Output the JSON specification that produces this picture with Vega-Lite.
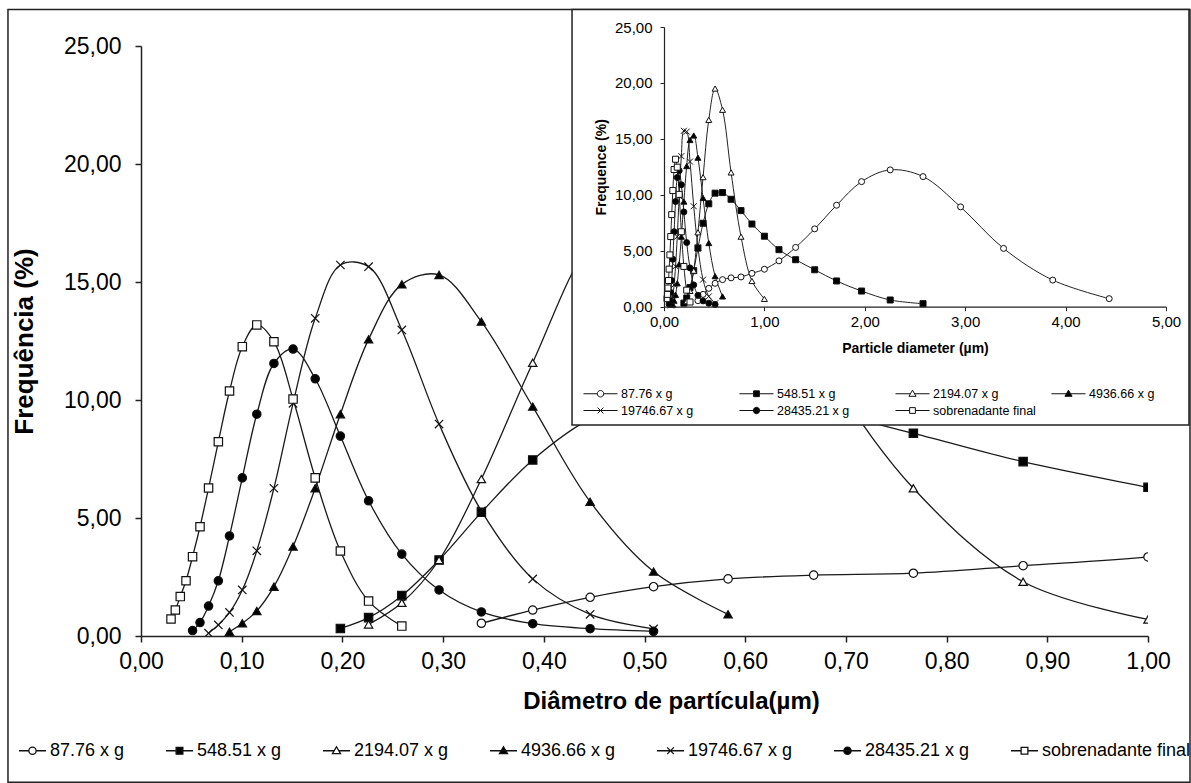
{
"$schema": "https://vega.github.io/schema/vega-lite/v6.json",
"width": 1007, "height": 590,
"autosize": {"type": "none"},
"padding": {"left": 141, "top": 46, "right": 43, "bottom": 147},
"background": "white",
"config": {"view": {"stroke": null}, "font": "Liberation Sans", "axis": {"grid": false, "labelColor": "#000", "titleColor": "#000", "domainColor": "#222", "tickColor": "#222", "labelFont": "Liberation Sans", "titleFont": "Liberation Sans"}},
"datasets": {
"sl": [{"s":"87.76 x g"},{"s":"548.51 x g"},{"s":"2194.07 x g"},{"s":"4936.66 x g"},{"s":"19746.67 x g"},{"s":"28435.21 x g"},{"s":"sobrenadante final"}],
"d": [
{"s":"87.76 x g","d":0.338,"f":0.54},{"s":"87.76 x g","d":0.389,"f":1.1},{"s":"87.76 x g","d":0.446,"f":1.64},{"s":"87.76 x g","d":0.509,"f":2.09},{"s":"87.76 x g","d":0.583,"f":2.42},{"s":"87.76 x g","d":0.668,"f":2.58},{"s":"87.76 x g","d":0.767,"f":2.66},{"s":"87.76 x g","d":0.876,"f":2.98},{"s":"87.76 x g","d":1.0,"f":3.35},{"s":"87.76 x g","d":1.145,"f":4.1},{"s":"87.76 x g","d":1.311,"f":5.3},{"s":"87.76 x g","d":1.501,"f":6.96},{"s":"87.76 x g","d":1.719,"f":9.07},{"s":"87.76 x g","d":1.968,"f":11.18},{"s":"87.76 x g","d":2.253,"f":12.23},{"s":"87.76 x g","d":2.58,"f":11.63},{"s":"87.76 x g","d":2.954,"f":8.92},{"s":"87.76 x g","d":3.382,"f":5.21},{"s":"87.76 x g","d":3.872,"f":2.38},{"s":"87.76 x g","d":4.434,"f":0.72},
{"s":"548.51 x g","d":0.198,"f":0.32},{"s":"548.51 x g","d":0.226,"f":0.78},{"s":"548.51 x g","d":0.259,"f":1.71},{"s":"548.51 x g","d":0.296,"f":3.22},{"s":"548.51 x g","d":0.338,"f":5.24},{"s":"548.51 x g","d":0.389,"f":7.46},{"s":"548.51 x g","d":0.446,"f":9.2},{"s":"548.51 x g","d":0.509,"f":10.15},{"s":"548.51 x g","d":0.583,"f":10.2},{"s":"548.51 x g","d":0.668,"f":9.6},{"s":"548.51 x g","d":0.767,"f":8.59},{"s":"548.51 x g","d":0.876,"f":7.39},{"s":"548.51 x g","d":1.0,"f":6.3},{"s":"548.51 x g","d":1.145,"f":5.1},{"s":"548.51 x g","d":1.311,"f":4.2},{"s":"548.51 x g","d":1.501,"f":3.3},{"s":"548.51 x g","d":1.719,"f":2.3},{"s":"548.51 x g","d":1.968,"f":1.4},{"s":"548.51 x g","d":2.253,"f":0.6},{"s":"548.51 x g","d":2.58,"f":0.27},
{"s":"2194.07 x g","d":0.226,"f":0.49},{"s":"2194.07 x g","d":0.259,"f":1.41},{"s":"2194.07 x g","d":0.296,"f":3.22},{"s":"2194.07 x g","d":0.338,"f":6.65},{"s":"2194.07 x g","d":0.389,"f":11.58},{"s":"2194.07 x g","d":0.446,"f":16.7},{"s":"2194.07 x g","d":0.509,"f":19.5},{"s":"2194.07 x g","d":0.583,"f":17.6},{"s":"2194.07 x g","d":0.668,"f":12.0},{"s":"2194.07 x g","d":0.767,"f":6.26},{"s":"2194.07 x g","d":0.876,"f":2.3},{"s":"2194.07 x g","d":1.0,"f":0.7},
{"s":"4936.66 x g","d":0.0879,"f":0.18},{"s":"4936.66 x g","d":0.1006,"f":0.54},{"s":"4936.66 x g","d":0.115,"f":1.06},{"s":"4936.66 x g","d":0.132,"f":2.09},{"s":"4936.66 x g","d":0.151,"f":3.79},{"s":"4936.66 x g","d":0.173,"f":6.26},{"s":"4936.66 x g","d":0.198,"f":9.4},{"s":"4936.66 x g","d":0.226,"f":12.57},{"s":"4936.66 x g","d":0.259,"f":14.9},{"s":"4936.66 x g","d":0.296,"f":15.3},{"s":"4936.66 x g","d":0.338,"f":13.32},{"s":"4936.66 x g","d":0.389,"f":9.72},{"s":"4936.66 x g","d":0.446,"f":5.69},{"s":"4936.66 x g","d":0.509,"f":2.73},{"s":"4936.66 x g","d":0.583,"f":0.92},
{"s":"19746.67 x g","d":0.0671,"f":0.12},{"s":"19746.67 x g","d":0.0768,"f":0.47},{"s":"19746.67 x g","d":0.0879,"f":1.0},{"s":"19746.67 x g","d":0.1006,"f":1.95},{"s":"19746.67 x g","d":0.115,"f":3.61},{"s":"19746.67 x g","d":0.132,"f":6.26},{"s":"19746.67 x g","d":0.151,"f":9.86},{"s":"19746.67 x g","d":0.173,"f":13.46},{"s":"19746.67 x g","d":0.198,"f":15.72},{"s":"19746.67 x g","d":0.226,"f":15.65},{"s":"19746.67 x g","d":0.259,"f":12.97},{"s":"19746.67 x g","d":0.296,"f":8.98},{"s":"19746.67 x g","d":0.338,"f":5.3},{"s":"19746.67 x g","d":0.389,"f":2.42},{"s":"19746.67 x g","d":0.446,"f":0.92},{"s":"19746.67 x g","d":0.509,"f":0.3},
{"s":"28435.21 x g","d":0.0512,"f":0.23},{"s":"28435.21 x g","d":0.0586,"f":0.57},{"s":"28435.21 x g","d":0.0671,"f":1.27},{"s":"28435.21 x g","d":0.0768,"f":2.34},{"s":"28435.21 x g","d":0.0879,"f":4.24},{"s":"28435.21 x g","d":0.1006,"f":6.7},{"s":"28435.21 x g","d":0.115,"f":9.4},{"s":"28435.21 x g","d":0.132,"f":11.55},{"s":"28435.21 x g","d":0.151,"f":12.16},{"s":"28435.21 x g","d":0.173,"f":10.9},{"s":"28435.21 x g","d":0.198,"f":8.47},{"s":"28435.21 x g","d":0.226,"f":5.73},{"s":"28435.21 x g","d":0.259,"f":3.47},{"s":"28435.21 x g","d":0.296,"f":1.95},{"s":"28435.21 x g","d":0.338,"f":1.02},{"s":"28435.21 x g","d":0.389,"f":0.52},{"s":"28435.21 x g","d":0.446,"f":0.31},{"s":"28435.21 x g","d":0.509,"f":0.2},
{"s":"sobrenadante final","d":0.0298,"f":0.72},{"s":"sobrenadante final","d":0.0341,"f":1.1},{"s":"sobrenadante final","d":0.039,"f":1.67},{"s":"sobrenadante final","d":0.0447,"f":2.34},{"s":"sobrenadante final","d":0.0512,"f":3.36},{"s":"sobrenadante final","d":0.0586,"f":4.63},{"s":"sobrenadante final","d":0.0671,"f":6.27},{"s":"sobrenadante final","d":0.0768,"f":8.23},{"s":"sobrenadante final","d":0.0879,"f":10.38},{"s":"sobrenadante final","d":0.1006,"f":12.26},{"s":"sobrenadante final","d":0.115,"f":13.18},{"s":"sobrenadante final","d":0.132,"f":12.47},{"s":"sobrenadante final","d":0.151,"f":10.04},{"s":"sobrenadante final","d":0.173,"f":6.7},{"s":"sobrenadante final","d":0.198,"f":3.6},{"s":"sobrenadante final","d":0.226,"f":1.48},{"s":"sobrenadante final","d":0.259,"f":0.42}
]},
"layer": [
{"data": {"name": "d"},
 "mark": {"type": "line", "interpolate": "catmull-rom", "clip": true, "color": "#1a1a1a", "strokeWidth": 1.3},
 "encoding": {
  "x": {"field": "d", "type": "quantitative", "scale": {"domain": [0, 1], "nice": false, "zero": false},
        "axis": {"orient": "bottom", "values": [0,0.1,0.2,0.3,0.4,0.5,0.6,0.7,0.8,0.9,1], "labelExpr": "replace(format(datum.value, '.2f'), '.', ',')", "labelFlush": false, "labelFontSize": 23, "labelPadding": 8, "tickSize": 6, "tickWidth": 1.5, "domainWidth": 1.5, "title": "Diâmetro de partícula(µm)", "titleFontSize": 24, "titleFontWeight": "bold", "titlePadding": 16, "titleX": 530}},
  "y": {"field": "f", "type": "quantitative", "scale": {"domain": [0, 25], "nice": false, "zero": false},
        "axis": {"orient": "left", "values": [0,5,10,15,20,25], "labelExpr": "replace(format(datum.value, '.2f'), '.', ',')", "labelFontSize": 23, "labelPadding": 14, "tickSize": 6, "tickWidth": 1.5, "domainWidth": 1.5, "title": "Frequência (%)", "titleFontSize": 26, "titleFontWeight": "bold", "titlePadding": 26}},
  "detail": {"field": "s", "type": "nominal"}}},
{"data": {"name": "d"},
 "mark": {"type": "point", "filled": true, "clip": true, "size": 70, "stroke": "#111", "strokeWidth": 1.2, "opacity": 1},
 "encoding": {
  "x": {"field": "d", "type": "quantitative", "scale": {"domain": [0, 1], "nice": false, "zero": false}, "axis": null},
  "y": {"field": "f", "type": "quantitative", "scale": {"domain": [0, 25], "nice": false, "zero": false}, "axis": null},
  "shape": {"field": "s", "type": "nominal", "scale": {"domain": ["87.76 x g","548.51 x g","2194.07 x g","4936.66 x g","19746.67 x g","28435.21 x g","sobrenadante final"], "range": ["circle","square","triangle-up","triangle-up","M-1,-1L1,1M-1,1L1,-1","circle","square"]}, "legend": null},
  "fill": {"field": "s", "type": "nominal", "scale": {"domain": ["87.76 x g","548.51 x g","2194.07 x g","4936.66 x g","19746.67 x g","28435.21 x g","sobrenadante final"], "range": ["white","black","white","black","black","black","white"]}, "legend": null}}},
{"data": {"name": "sl"},
 "mark": {"type": "point", "filled": true, "clip": true, "size": 729, "strokeWidth": 1.3, "opacity": 1},
 "encoding": {
  "x": {"datum": -10, "type": "quantitative", "scale": {"domain": [0, 1], "nice": false, "zero": false}, "axis": null},
  "y": {"datum": -10, "type": "quantitative", "scale": {"domain": [0, 25], "nice": false, "zero": false}, "axis": null},
  "stroke": {"field": "s", "type": "nominal", "scale": {"domain": ["87.76 x g","548.51 x g","2194.07 x g","4936.66 x g","19746.67 x g","28435.21 x g","sobrenadante final"], "range": ["#111","#111","#111","#111","#111","#111","#111"]},
   "legend": {"orient": "none", "legendX": -123, "legendY": 690, "direction": "horizontal", "columns": 7, "title": null, "symbolSize": 729, "symbolStrokeWidth": 1.3, "symbolOpacity": 1, "labelFontSize": 18, "labelFont": "Liberation Sans", "labelColor": "#000", "labelOffset": 3, "columnPadding": 38, "padding": 0}},
  "shape": {"field": "s", "type": "nominal", "scale": {"domain": ["87.76 x g","548.51 x g","2194.07 x g","4936.66 x g","19746.67 x g","28435.21 x g","sobrenadante final"], "range": [
    "M-1,0L-0.27,0M0.27,0L1,0M-0.27,0A0.27,0.27,0,1,0,0.27,0A0.27,0.27,0,1,0,-0.27,0Z",
    "M-1,0L-0.25,0M0.25,0L1,0M-0.25,-0.25L0.25,-0.25L0.25,0.25L-0.25,0.25Z",
    "M-1,0L-0.17,0M0.17,0L1,0M0,-0.3L0.3,0.22L-0.3,0.22Z",
    "M-1,0L1,0M0,-0.3L0.3,0.22L-0.3,0.22Z",
    "M-1,0L1,0M-0.25,-0.25L0.25,0.25M-0.25,0.25L0.25,-0.25",
    "M-1,0L1,0M-0.27,0A0.27,0.27,0,1,0,0.27,0A0.27,0.27,0,1,0,-0.27,0Z",
    "M-1,0L-0.25,0M0.25,0L1,0M-0.25,-0.25L0.25,-0.25L0.25,0.25L-0.25,0.25Z"]},
   "legend": {"orient": "none", "legendX": -123, "legendY": 690, "direction": "horizontal", "columns": 7, "title": null, "symbolSize": 729, "symbolStrokeWidth": 1.3, "symbolOpacity": 1, "labelFontSize": 18, "labelFont": "Liberation Sans", "labelColor": "#000", "labelOffset": 3, "columnPadding": 38, "padding": 0}},
  "fill": {"field": "s", "type": "nominal", "scale": {"domain": ["87.76 x g","548.51 x g","2194.07 x g","4936.66 x g","19746.67 x g","28435.21 x g","sobrenadante final"], "range": ["white","black","white","black","black","black","white"]},
   "legend": {"orient": "none", "legendX": -123, "legendY": 690, "direction": "horizontal", "columns": 7, "title": null, "symbolSize": 729, "symbolStrokeWidth": 1.3, "symbolOpacity": 1, "labelFontSize": 18, "labelFont": "Liberation Sans", "labelColor": "#000", "labelOffset": 3, "columnPadding": 38, "padding": 0}}}},
{"data": {"values": [{}]},
 "mark": {"type": "rect", "fillOpacity": 0, "stroke": "#222", "strokeWidth": 1.5},
 "encoding": {
  "x": {"datum": -0.1321, "type": "quantitative", "scale": {"domain": [0, 1], "nice": false, "zero": false}, "axis": null},
  "x2": {"datum": 1.0417},
  "y": {"datum": 26.547, "type": "quantitative", "scale": {"domain": [0, 25], "nice": false, "zero": false}, "axis": null},
  "y2": {"datum": -6.2}}},
{"data": {"values": [{}]},
 "mark": {"type": "rect", "fill": "white", "stroke": "#222", "strokeWidth": 1.5},
 "encoding": {
  "x": {"datum": -0.916, "type": "quantitative", "scale": {"domain": [0, 5], "range": [523, 1025], "nice": false, "zero": false}, "axis": null},
  "x2": {"datum": 5.229},
  "y": {"datum": 26.56, "type": "quantitative", "scale": {"domain": [0, 25], "range": [260.7, -19], "nice": false, "zero": false}, "axis": null},
  "y2": {"datum": -10.57}}},
{"data": {"name": "d"},
 "mark": {"type": "line", "interpolate": "catmull-rom", "color": "#222", "strokeWidth": 1},
 "encoding": {
  "x": {"field": "d", "type": "quantitative", "scale": {"domain": [0, 5], "range": [523, 1025], "nice": false, "zero": false},
        "axis": {"orient": "bottom", "offset": -329.3, "zindex": 2, "values": [0,1,2,3,4,5], "labelExpr": "replace(format(datum.value, '.2f'), '.', ',')", "labelFlush": false, "labelFontSize": 15, "labelPadding": 4, "tickSize": 4, "tickWidth": 1, "domainWidth": 1.2, "title": "Particle diameter (µm)", "titleFontSize": 14, "titleFontWeight": "bold", "titlePadding": 12}},
  "y": {"field": "f", "type": "quantitative", "scale": {"domain": [0, 25], "range": [260.7, -19], "nice": false, "zero": false},
        "axis": {"orient": "left", "offset": -523, "zindex": 2, "values": [0,5,10,15,20,25], "labelExpr": "replace(format(datum.value, '.2f'), '.', ',')", "labelFontSize": 15, "labelPadding": 8, "tickSize": 4, "tickWidth": 1, "domainWidth": 1.2, "title": "Frequence (%)", "titleFontSize": 14, "titleFontWeight": "bold", "titlePadding": 6}},
  "detail": {"field": "s", "type": "nominal"}}},
{"data": {"name": "d"},
 "mark": {"type": "point", "filled": true, "size": 36, "stroke": "#111", "strokeWidth": 1, "opacity": 1},
 "encoding": {
  "x": {"field": "d", "type": "quantitative", "scale": {"domain": [0, 5], "range": [523, 1025], "nice": false, "zero": false}, "axis": null},
  "y": {"field": "f", "type": "quantitative", "scale": {"domain": [0, 25], "range": [260.7, -19], "nice": false, "zero": false}, "axis": null},
  "shape": {"field": "s", "type": "nominal", "scale": {"domain": ["87.76 x g","548.51 x g","2194.07 x g","4936.66 x g","19746.67 x g","28435.21 x g","sobrenadante final"], "range": ["circle","square","triangle-up","triangle-up","M-1,-1L1,1M-1,1L1,-1","circle","square"]}, "legend": null},
  "fill": {"field": "s", "type": "nominal", "scale": {"domain": ["87.76 x g","548.51 x g","2194.07 x g","4936.66 x g","19746.67 x g","28435.21 x g","sobrenadante final"], "range": ["white","black","white","black","black","black","white"]}, "legend": null}}},
{"data": {"name": "sl"},
 "mark": {"type": "point", "filled": true, "clip": true, "size": 289, "strokeWidth": 1, "opacity": 1},
 "encoding": {
  "x": {"datum": -10, "type": "quantitative", "scale": {"domain": [0, 5], "range": [523, 1025], "nice": false, "zero": false}, "axis": null},
  "y": {"datum": -10, "type": "quantitative", "scale": {"domain": [0, 25], "range": [260.7, -19], "nice": false, "zero": false}, "axis": null},
  "stroke": {"field": "s", "type": "nominal", "scale": {"domain": ["87.76 x g","548.51 x g","2194.07 x g","4936.66 x g","19746.67 x g","28435.21 x g","sobrenadante final"], "range": ["#111","#111","#111","#111","#111","#111","#111"]},
   "legend": {"orient": "none", "legendX": 450.5, "legendY": 338.5, "direction": "horizontal", "columns": 4, "gridAlign": "all", "title": null, "symbolSize": 289, "symbolStrokeWidth": 1, "symbolOpacity": 1, "labelFontSize": 12.5, "labelFont": "Liberation Sans", "labelColor": "#000", "labelOffset": 11.5, "columnPadding": 13, "rowPadding": 1, "padding": 0}},
  "shape": {"field": "s", "type": "nominal", "scale": {"domain": ["87.76 x g","548.51 x g","2194.07 x g","4936.66 x g","19746.67 x g","28435.21 x g","sobrenadante final"], "range": [
    "M-2,0L-0.38,0M0.38,0L2,0M-0.38,0A0.38,0.38,0,1,0,0.38,0A0.38,0.38,0,1,0,-0.38,0Z",
    "M-2,0L-0.34,0M0.34,0L2,0M-0.34,-0.34L0.34,-0.34L0.34,0.34L-0.34,0.34Z",
    "M-2,0L-0.245,0M0.245,0L2,0M0,-0.42L0.42,0.3L-0.42,0.3Z",
    "M-2,0L2,0M0,-0.42L0.42,0.3L-0.42,0.3Z",
    "M-2,0L2,0M-0.34,-0.34L0.34,0.34M-0.34,0.34L0.34,-0.34",
    "M-2,0L2,0M-0.38,0A0.38,0.38,0,1,0,0.38,0A0.38,0.38,0,1,0,-0.38,0Z",
    "M-2,0L-0.34,0M0.34,0L2,0M-0.34,-0.34L0.34,-0.34L0.34,0.34L-0.34,0.34Z"]},
   "legend": {"orient": "none", "legendX": 450.5, "legendY": 338.5, "direction": "horizontal", "columns": 4, "gridAlign": "all", "title": null, "symbolSize": 289, "symbolStrokeWidth": 1, "symbolOpacity": 1, "labelFontSize": 12.5, "labelFont": "Liberation Sans", "labelColor": "#000", "labelOffset": 11.5, "columnPadding": 13, "rowPadding": 1, "padding": 0}},
  "fill": {"field": "s", "type": "nominal", "scale": {"domain": ["87.76 x g","548.51 x g","2194.07 x g","4936.66 x g","19746.67 x g","28435.21 x g","sobrenadante final"], "range": ["white","black","white","black","black","black","white"]},
   "legend": {"orient": "none", "legendX": 450.5, "legendY": 338.5, "direction": "horizontal", "columns": 4, "gridAlign": "all", "title": null, "symbolSize": 289, "symbolStrokeWidth": 1, "symbolOpacity": 1, "labelFontSize": 12.5, "labelFont": "Liberation Sans", "labelColor": "#000", "labelOffset": 11.5, "columnPadding": 13, "rowPadding": 1, "padding": 0}}}}
],
"resolve": {"scale": {"x": "independent", "y": "independent", "shape": "independent", "fill": "independent", "stroke": "independent"}, "legend": {"shape": "independent", "fill": "independent", "stroke": "independent"}}
}
